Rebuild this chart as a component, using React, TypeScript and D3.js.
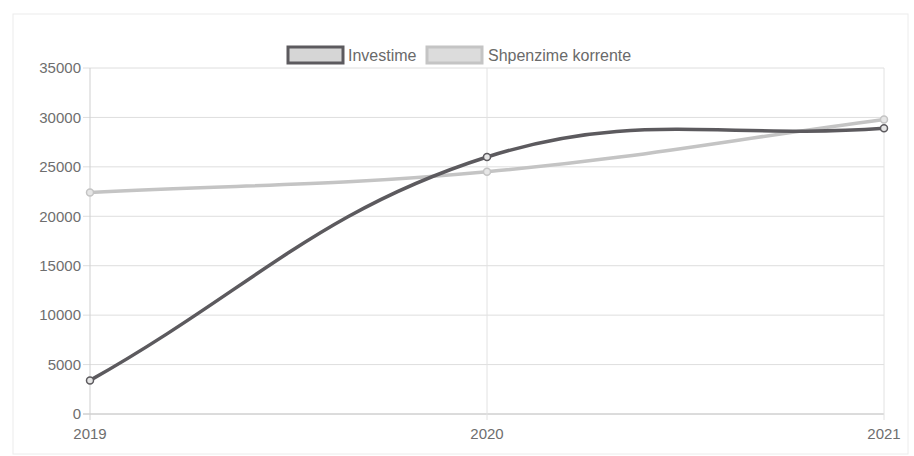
import React from "react";
import * as d3 from "d3";

const categories = ["2019", "2020", "2021"];
const investime = [3400, 26000, 28900];
const shpenzime = [22400, 24500, 29800];
const yTicks = [0, 5000, 10000, 15000, 20000, 25000, 30000, 35000];
const seriesNames = ["Investime", "Shpenzime korrente"];

const W = 914;
const H = 456;
const left = 90;
const right = 884;
const top = 68;
const bottom = 414;

type P = { x: number; y: number };

function chartjsSpline(points: P[], tension: number): string {
  const path = d3.path();
  const cps: { prev: P; next: P }[] = points.map((cur, i) => {
    const prev = points[i - 1] || cur;
    const next = points[i + 1] || cur;
    const d01 = Math.hypot(cur.x - prev.x, cur.y - prev.y);
    const d12 = Math.hypot(next.x - cur.x, next.y - cur.y);
    let s01 = d01 / (d01 + d12);
    let s12 = d12 / (d01 + d12);
    s01 = isNaN(s01) ? 0 : s01;
    s12 = isNaN(s12) ? 0 : s12;
    const fa = tension * s01;
    const fb = tension * s12;
    return {
      prev: { x: cur.x - fa * (next.x - prev.x), y: cur.y - fa * (next.y - prev.y) },
      next: { x: cur.x + fb * (next.x - prev.x), y: cur.y + fb * (next.y - prev.y) },
    };
  });
  points.forEach((p, i) => {
    if (i === 0) path.moveTo(p.x, p.y);
    else {
      const a = cps[i - 1].next;
      const b = cps[i].prev;
      path.bezierCurveTo(a.x, a.y, b.x, b.y, p.x, p.y);
    }
  });
  return path.toString();
}

export default function App() {
  const x = d3.scalePoint<string>().domain(categories).range([left, right]);
  const y = d3.scaleLinear().domain([0, 35000]).range([bottom, top]);

  const series = [
    { name: seriesNames[0], values: investime, color: "#5c5a5e", box: "#d6d6d6" },
    { name: seriesNames[1], values: shpenzime, color: "#c4c4c4", box: "#dcdcdc" },
  ];

  const font = "'Liberation Sans', Arial, sans-serif";

  return (
    <svg width={W} height={H} style={{ position: "absolute", left: 0, top: 0, background: "#fff" }}>
      <rect x={13} y={14} width={895} height={440} fill="none" stroke="#ececec" strokeWidth={1} />
      {/* horizontal grid */}
      {yTicks.map((t) => (
        <g key={t}>
          <line x1={left - 7} x2={right} y1={y(t)} y2={y(t)} stroke={t === 0 ? "#b8b8b8" : "#dedede"} strokeWidth={1} />
          <text x={left - 9} y={y(t)} dy="0.35em" textAnchor="end" fontFamily={font} fontSize={15} fill="#6e6e6e">
            {t}
          </text>
        </g>
      ))}
      {/* vertical grid */}
      {categories.map((c) => (
        <g key={c}>
          <line x1={x(c)} x2={x(c)} y1={top} y2={bottom + 6} stroke={c === categories[0] ? "#cfcfcf" : "#e2e2e2"} strokeWidth={1} />
          <text x={x(c)} y={bottom + 25} textAnchor="middle" fontFamily={font} fontSize={15} fill="#6e6e6e">
            {c}
          </text>
        </g>
      ))}
      {/* lines */}
      {series
        .slice()
        .reverse()
        .map((s) => {
          const pts = s.values.map((v, i) => ({ x: x(categories[i]) as number, y: y(v) }));
          return (
            <g key={s.name}>
              <path d={chartjsSpline(pts, 0.4)} fill="none" stroke={s.color} strokeWidth={3.5} />
              {pts.map((p, i) => (
                <circle key={i} cx={p.x} cy={p.y} r={3.5} fill="#e6e6e6" stroke={s.color} strokeWidth={1.5} />
              ))}
            </g>
          );
        })}
      {/* legend */}
      <g>
        <rect x={288} y={47} width={55} height={16} fill={series[0].box} stroke={series[0].color} strokeWidth={3} />
        <text x={348} y={55} dy="0.35em" fontFamily={font} fontSize={16} fill="#6a6a6a">
          {series[0].name}
        </text>
        <rect x={427} y={47} width={55} height={16} fill={series[1].box} stroke={series[1].color} strokeWidth={3} />
        <text x={488} y={55} dy="0.35em" fontFamily={font} fontSize={16} fill="#6a6a6a">
          {series[1].name}
        </text>
      </g>
    </svg>
  );
}
